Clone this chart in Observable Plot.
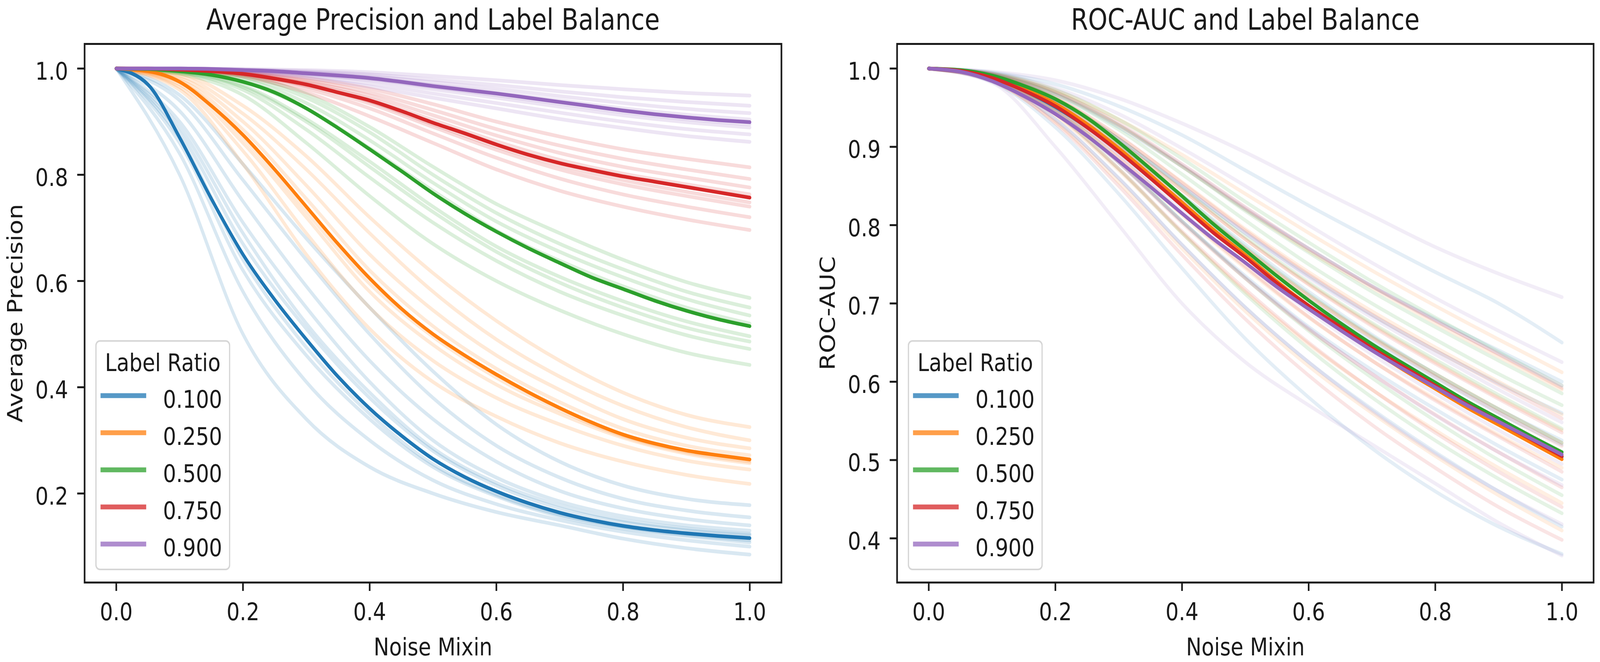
<!DOCTYPE html>
<html><head><meta charset="utf-8">
<script src="https://cdn.jsdelivr.net/npm/d3@7"></script>
<script src="https://cdn.jsdelivr.net/npm/@observablehq/plot@0.6"></script>
<style>
html,body{margin:0;padding:0;background:#fff;overflow:hidden;}
#wrap{position:relative;overflow:hidden;background:#fff;}
#fig{position:absolute;left:0;top:0;width:4870px;height:1695px;overflow:hidden;background:#fff;transform-origin:0 0;}
.panel{position:absolute;top:0;}
.legend{position:absolute;}
.panel [aria-label^="x-axis"] line, .panel [aria-label^="x-axis"] path,
.panel [aria-label^="y-axis"] line, .panel [aria-label^="y-axis"] path { stroke-width: 5px; }
</style></head><body><div id="wrap"><div id="fig"></div></div>
<script>
// ---------------- data ----------------
const ratioLabels = ["0.100", "0.250", "0.500", "0.750", "0.900"];
const ratioColors = ["#1f77b4", "#ff7f0e", "#2ca02c", "#d62728", "#9467bd"];
const xTicks = [0, 0.2, 0.4, 0.6, 0.8, 1.0];
const apTicks = [0.2, 0.4, 0.6, 0.8, 1.0];
const rocTicks = [0.4, 0.5, 0.6, 0.7, 0.8, 0.9, 1.0];

// noise mixin grid for the bold mean curves
const xMean = [0, 0.05, 0.1, 0.15, 0.2, 0.25, 0.3, 0.35, 0.4, 0.45, 0.5, 0.55, 0.6, 0.65, 0.7, 0.75, 0.8, 0.85, 0.9, 0.95, 1.0];
// noise mixin grid for the faint individual runs
const xRun = [0, 0.1, 0.2, 0.3, 0.4, 0.5, 0.6, 0.7, 0.8, 0.9, 1.0];

// Average precision: mean curves
const apMean010 = [1.0, 0.97, 0.87, 0.755, 0.65, 0.565, 0.49, 0.42, 0.36, 0.309, 0.265, 0.231, 0.204, 0.182, 0.164, 0.15, 0.139, 0.131, 0.125, 0.12, 0.116];
const apMean025 = [1.0, 0.995, 0.975, 0.93, 0.875, 0.81, 0.74, 0.67, 0.605, 0.548, 0.50, 0.46, 0.424, 0.391, 0.361, 0.334, 0.311, 0.294, 0.281, 0.272, 0.264];
const apMean050 = [1.0, 0.999, 0.995, 0.988, 0.975, 0.955, 0.925, 0.888, 0.848, 0.807, 0.765, 0.727, 0.693, 0.662, 0.634, 0.607, 0.585, 0.563, 0.544, 0.528, 0.515];
const apMean075 = [1.0, 1.0, 0.998, 0.995, 0.99, 0.981, 0.97, 0.955, 0.94, 0.92, 0.898, 0.878, 0.857, 0.838, 0.822, 0.809, 0.797, 0.787, 0.777, 0.767, 0.757];
const apMean090 = [1.0, 1.0, 1.0, 0.999, 0.997, 0.995, 0.991, 0.987, 0.982, 0.975, 0.967, 0.96, 0.953, 0.945, 0.937, 0.929, 0.921, 0.914, 0.908, 0.903, 0.899];

// Average precision: individual runs
const apRuns010 = [
  [1.0, 0.80, 0.50, 0.34, 0.25, 0.20, 0.165, 0.14, 0.115, 0.097, 0.085],
  [1.0, 0.84, 0.58, 0.41, 0.30, 0.225, 0.18, 0.15, 0.128, 0.112, 0.10],
  [1.0, 0.86, 0.62, 0.46, 0.34, 0.25, 0.195, 0.157, 0.134, 0.12, 0.108],
  [1.0, 0.87, 0.64, 0.475, 0.35, 0.255, 0.198, 0.16, 0.137, 0.122, 0.112],
  [1.0, 0.88, 0.67, 0.51, 0.38, 0.28, 0.215, 0.172, 0.146, 0.131, 0.122],
  [1.0, 0.89, 0.69, 0.52, 0.39, 0.285, 0.22, 0.178, 0.15, 0.134, 0.124],
  [1.0, 0.90, 0.71, 0.55, 0.41, 0.30, 0.23, 0.185, 0.157, 0.14, 0.13],
  [1.0, 0.92, 0.75, 0.59, 0.45, 0.34, 0.26, 0.205, 0.172, 0.152, 0.14],
  [1.0, 0.94, 0.79, 0.64, 0.50, 0.38, 0.29, 0.23, 0.19, 0.168, 0.155],
  [1.0, 0.95, 0.82, 0.68, 0.55, 0.43, 0.33, 0.26, 0.215, 0.19, 0.178]
];
const apRuns025 = [
  [1.0, 0.96, 0.82, 0.65, 0.51, 0.41, 0.345, 0.295, 0.26, 0.235, 0.218],
  [1.0, 0.965, 0.845, 0.69, 0.55, 0.45, 0.38, 0.33, 0.29, 0.262, 0.245],
  [1.0, 0.97, 0.86, 0.72, 0.58, 0.48, 0.405, 0.35, 0.305, 0.275, 0.257],
  [1.0, 0.975, 0.87, 0.73, 0.595, 0.495, 0.418, 0.357, 0.308, 0.278, 0.26],
  [1.0, 0.978, 0.885, 0.755, 0.62, 0.515, 0.435, 0.372, 0.322, 0.29, 0.272],
  [1.0, 0.982, 0.90, 0.78, 0.65, 0.545, 0.46, 0.395, 0.34, 0.305, 0.285],
  [1.0, 0.986, 0.915, 0.81, 0.69, 0.58, 0.49, 0.42, 0.365, 0.325, 0.30],
  [1.0, 0.99, 0.93, 0.835, 0.72, 0.615, 0.525, 0.45, 0.39, 0.348, 0.325]
];
const apRuns050 = [
  [1.0, 0.99, 0.95, 0.86, 0.76, 0.67, 0.60, 0.545, 0.50, 0.465, 0.442],
  [1.0, 0.992, 0.96, 0.885, 0.795, 0.71, 0.638, 0.58, 0.535, 0.498, 0.472],
  [1.0, 0.993, 0.965, 0.90, 0.815, 0.73, 0.655, 0.597, 0.55, 0.512, 0.486],
  [1.0, 0.994, 0.968, 0.905, 0.825, 0.74, 0.665, 0.608, 0.562, 0.524, 0.496],
  [1.0, 0.995, 0.975, 0.925, 0.85, 0.77, 0.695, 0.638, 0.59, 0.55, 0.52],
  [1.0, 0.996, 0.98, 0.935, 0.865, 0.785, 0.712, 0.655, 0.607, 0.566, 0.535],
  [1.0, 0.997, 0.984, 0.945, 0.88, 0.80, 0.728, 0.67, 0.622, 0.58, 0.55],
  [1.0, 0.998, 0.987, 0.952, 0.89, 0.815, 0.745, 0.69, 0.64, 0.598, 0.568]
];
const apRuns075 = [
  [1.0, 0.997, 0.985, 0.955, 0.91, 0.86, 0.81, 0.77, 0.74, 0.716, 0.696],
  [1.0, 0.997, 0.987, 0.962, 0.925, 0.878, 0.832, 0.793, 0.763, 0.74, 0.72],
  [1.0, 0.998, 0.989, 0.967, 0.934, 0.89, 0.847, 0.81, 0.782, 0.76, 0.74],
  [1.0, 0.998, 0.99, 0.969, 0.938, 0.895, 0.853, 0.817, 0.79, 0.768, 0.748],
  [1.0, 0.998, 0.991, 0.972, 0.943, 0.903, 0.863, 0.828, 0.802, 0.782, 0.763],
  [1.0, 0.999, 0.992, 0.975, 0.949, 0.912, 0.874, 0.841, 0.815, 0.795, 0.776],
  [1.0, 0.999, 0.993, 0.978, 0.955, 0.922, 0.886, 0.855, 0.83, 0.81, 0.792],
  [1.0, 0.999, 0.995, 0.982, 0.962, 0.933, 0.90, 0.872, 0.848, 0.83, 0.814]
];
const apRuns090 = [
  [1.0, 0.999, 0.994, 0.983, 0.966, 0.945, 0.925, 0.905, 0.888, 0.873, 0.862],
  [1.0, 0.999, 0.995, 0.986, 0.972, 0.953, 0.935, 0.917, 0.90, 0.886, 0.876],
  [1.0, 1.0, 0.996, 0.989, 0.978, 0.961, 0.945, 0.928, 0.912, 0.899, 0.889],
  [1.0, 1.0, 0.997, 0.99, 0.98, 0.965, 0.95, 0.934, 0.918, 0.905, 0.895],
  [1.0, 1.0, 0.997, 0.992, 0.983, 0.969, 0.955, 0.94, 0.925, 0.913, 0.904],
  [1.0, 1.0, 0.998, 0.993, 0.986, 0.974, 0.962, 0.948, 0.935, 0.924, 0.916],
  [1.0, 1.0, 0.998, 0.995, 0.989, 0.979, 0.969, 0.957, 0.946, 0.937, 0.93],
  [1.0, 1.0, 0.999, 0.997, 0.993, 0.986, 0.978, 0.969, 0.961, 0.954, 0.949]
];

// ROC-AUC: mean curves
const rocMean010 = [1.0, 0.997, 0.988, 0.972, 0.951, 0.925, 0.894, 0.86, 0.826, 0.792, 0.76, 0.727, 0.697, 0.668, 0.642, 0.617, 0.593, 0.57, 0.548, 0.526, 0.504];
const rocMean025 = [1.0, 0.997, 0.989, 0.974, 0.955, 0.929, 0.898, 0.864, 0.829, 0.794, 0.762, 0.728, 0.697, 0.668, 0.641, 0.615, 0.591, 0.567, 0.545, 0.523, 0.501];
const rocMean050 = [1.0, 0.998, 0.991, 0.978, 0.961, 0.937, 0.906, 0.872, 0.837, 0.801, 0.768, 0.735, 0.704, 0.675, 0.648, 0.623, 0.599, 0.575, 0.553, 0.531, 0.51];
const rocMean075 = [1.0, 0.997, 0.988, 0.972, 0.952, 0.925, 0.894, 0.86, 0.825, 0.79, 0.759, 0.726, 0.697, 0.67, 0.643, 0.619, 0.595, 0.571, 0.549, 0.527, 0.505];
const rocMean090 = [1.0, 0.996, 0.984, 0.965, 0.942, 0.914, 0.882, 0.849, 0.815, 0.782, 0.752, 0.721, 0.693, 0.666, 0.64, 0.616, 0.593, 0.57, 0.549, 0.528, 0.507];

// ROC-AUC: individual runs
const rocRuns010 = [
  [1.0, 0.983, 0.925, 0.84, 0.745, 0.655, 0.58, 0.515, 0.46, 0.415, 0.38],
  [1.0, 0.985, 0.935, 0.86, 0.775, 0.695, 0.625, 0.565, 0.51, 0.46, 0.415],
  [1.0, 0.987, 0.945, 0.88, 0.805, 0.735, 0.67, 0.615, 0.565, 0.518, 0.475],
  [1.0, 0.988, 0.952, 0.895, 0.83, 0.765, 0.705, 0.652, 0.605, 0.56, 0.52],
  [1.0, 0.989, 0.955, 0.90, 0.838, 0.775, 0.715, 0.66, 0.61, 0.565, 0.525],
  [1.0, 0.99, 0.96, 0.91, 0.85, 0.79, 0.735, 0.685, 0.64, 0.598, 0.56],
  [1.0, 0.992, 0.967, 0.925, 0.875, 0.82, 0.77, 0.722, 0.68, 0.64, 0.60],
  [1.0, 0.995, 0.98, 0.952, 0.915, 0.87, 0.825, 0.782, 0.74, 0.70, 0.65]
];
const rocRuns025 = [
  [1.0, 0.984, 0.932, 0.855, 0.77, 0.69, 0.62, 0.56, 0.505, 0.455, 0.41],
  [1.0, 0.986, 0.94, 0.87, 0.79, 0.715, 0.648, 0.59, 0.538, 0.49, 0.445],
  [1.0, 0.987, 0.948, 0.885, 0.813, 0.745, 0.682, 0.627, 0.578, 0.532, 0.49],
  [1.0, 0.989, 0.955, 0.90, 0.835, 0.77, 0.71, 0.657, 0.61, 0.565, 0.522],
  [1.0, 0.99, 0.958, 0.905, 0.845, 0.782, 0.725, 0.673, 0.625, 0.58, 0.538],
  [1.0, 0.99, 0.962, 0.913, 0.855, 0.795, 0.74, 0.69, 0.644, 0.60, 0.558],
  [1.0, 0.992, 0.968, 0.927, 0.875, 0.82, 0.767, 0.72, 0.675, 0.632, 0.59],
  [1.0, 0.993, 0.972, 0.935, 0.89, 0.84, 0.79, 0.742, 0.697, 0.654, 0.612]
];
const rocRuns050 = [
  [1.0, 0.987, 0.943, 0.872, 0.79, 0.712, 0.642, 0.58, 0.525, 0.476, 0.432],
  [1.0, 0.988, 0.948, 0.882, 0.805, 0.732, 0.665, 0.605, 0.55, 0.50, 0.455],
  [1.0, 0.989, 0.955, 0.897, 0.83, 0.762, 0.70, 0.645, 0.595, 0.548, 0.505],
  [1.0, 0.99, 0.958, 0.903, 0.838, 0.772, 0.712, 0.658, 0.61, 0.565, 0.522],
  [1.0, 0.991, 0.962, 0.91, 0.848, 0.785, 0.727, 0.675, 0.628, 0.583, 0.54],
  [1.0, 0.992, 0.967, 0.922, 0.865, 0.806, 0.75, 0.70, 0.654, 0.61, 0.57],
  [1.0, 0.993, 0.97, 0.928, 0.875, 0.818, 0.765, 0.715, 0.67, 0.627, 0.585],
  [1.0, 0.994, 0.973, 0.935, 0.885, 0.83, 0.778, 0.728, 0.682, 0.638, 0.595]
];
const rocRuns075 = [
  [1.0, 0.984, 0.93, 0.85, 0.762, 0.68, 0.608, 0.545, 0.49, 0.44, 0.398],
  [1.0, 0.986, 0.942, 0.872, 0.792, 0.718, 0.65, 0.59, 0.535, 0.485, 0.44],
  [1.0, 0.987, 0.946, 0.88, 0.803, 0.732, 0.667, 0.61, 0.558, 0.51, 0.465],
  [1.0, 0.988, 0.95, 0.888, 0.815, 0.747, 0.683, 0.627, 0.576, 0.53, 0.485],
  [1.0, 0.989, 0.956, 0.90, 0.835, 0.77, 0.71, 0.656, 0.607, 0.561, 0.518],
  [1.0, 0.99, 0.96, 0.907, 0.845, 0.782, 0.724, 0.671, 0.623, 0.578, 0.535],
  [1.0, 0.991, 0.963, 0.914, 0.854, 0.793, 0.737, 0.686, 0.64, 0.596, 0.553],
  [1.0, 0.993, 0.97, 0.93, 0.878, 0.823, 0.77, 0.722, 0.678, 0.635, 0.592]
];
const rocRuns090 = [
  [1.0, 0.982, 0.90, 0.80, 0.70, 0.625, 0.57, 0.52, 0.47, 0.42, 0.378],
  [1.0, 0.985, 0.935, 0.86, 0.775, 0.695, 0.625, 0.563, 0.508, 0.46, 0.418],
  [1.0, 0.987, 0.945, 0.88, 0.805, 0.733, 0.668, 0.61, 0.557, 0.51, 0.468],
  [1.0, 0.988, 0.95, 0.89, 0.82, 0.752, 0.69, 0.635, 0.585, 0.538, 0.495],
  [1.0, 0.99, 0.96, 0.91, 0.85, 0.79, 0.733, 0.682, 0.635, 0.59, 0.548],
  [1.0, 0.992, 0.968, 0.928, 0.877, 0.822, 0.77, 0.722, 0.678, 0.636, 0.595],
  [1.0, 0.994, 0.975, 0.942, 0.898, 0.85, 0.80, 0.752, 0.707, 0.665, 0.625],
  [1.0, 0.996, 0.985, 0.962, 0.93, 0.893, 0.852, 0.812, 0.772, 0.738, 0.708]
];

// ---------------- drawing ----------------
const FONT = "DejaVu Sans";
const INK = "#1a1a1a";
const wrap = document.getElementById("wrap");
const fig = document.getElementById("fig");

// fit the 4870x1695 figure into the CSS viewport the window reports
const vw = window.innerWidth || document.documentElement.clientWidth || 4870;
const vh = window.innerHeight || document.documentElement.clientHeight || 1695;
fig.style.transform = `scale(${vw / 4870}, ${vh / 1695})`;
wrap.style.width = vw + "px";
wrap.style.height = vh + "px";

function meanRows(arr) { return xMean.map((x, i) => ({x, v: arr[i]})); }
function runRows(runs) { return runs.flatMap((r, j) => xRun.map((x, i) => ({x, v: r[i], id: j}))); }

function panel({title, ylabel, yDomain, yTicks, means, runs, runOpacity, left, width, marginLeft, marginRight}) {
  const marks = [];
  runs.forEach((r, k) => marks.push(Plot.line(runRows(r), {
    x: "x", y: "v", z: "id", stroke: ratioColors[k], strokeOpacity: runOpacity,
    strokeWidth: 9.5, curve: "monotone-x"
  })));
  means.forEach((m, k) => marks.push(Plot.line(meanRows(m), {
    x: "x", y: "v", stroke: ratioColors[k], strokeWidth: 9.5, curve: "monotone-x"
  })));
  marks.push(Plot.frame({stroke: INK, strokeWidth: 5}));
  marks.push(Plot.text(yTicks, {y: d => d, text: d => d.toFixed(1), frameAnchor: "left", dx: -50, dy: 8,
    textAnchor: "end", fontSize: 63, fill: INK, fontFamily: FONT}));
  marks.push(Plot.text([title], {text: d => d, frameAnchor: "top", dy: -37, lineAnchor: "bottom", textAnchor: "middle", fontSize: 75, fill: INK, fontFamily: FONT}));
  marks.push(Plot.text(["Noise Mixin"], {text: d => d, frameAnchor: "bottom", dy: 186, lineAnchor: "bottom", textAnchor: "middle", fontSize: 63, fill: INK, fontFamily: FONT}));
  marks.push(Plot.text([ylabel], {text: d => d, frameAnchor: "left", dx: -190, rotate: -90, lineAnchor: "bottom", textAnchor: "middle", fontSize: 63, fill: INK, fontFamily: FONT}));

  const svg = Plot.plot({
    width, height: 1695,
    marginLeft, marginRight, marginTop: 112, marginBottom: 204,
    x: {domain: [-0.05, 1.05], ticks: xTicks, tickSize: 22, tickPadding: 30, tickFormat: d => d.toFixed(1), label: null},
    y: {domain: yDomain, ticks: yTicks, tickSize: 22, tickFormat: () => "", label: null},
    style: {fontFamily: FONT, fontSize: "63px", background: "transparent", overflow: "visible", color: INK, maxWidth: "none"},
    marks
  });
  svg.classList.add("panel");
  svg.style.left = left + "px";
  fig.appendChild(svg);

  // legend (inside the axes, lower-left)
  const lx = left + marginLeft + 33, ly = 871, lw = 411, lh = 589;
  const leg = d3.select(fig).append("svg").attr("class", "legend")
    .attr("width", lw).attr("height", lh)
    .style("left", lx + "px").style("top", ly + "px");
  leg.append("rect").attr("x", 2).attr("y", 2).attr("width", lw - 4).attr("height", lh - 4)
    .attr("rx", 12).attr("fill", "#fff").attr("fill-opacity", 0.8)
    .attr("stroke", "#d6d6d6").attr("stroke-width", 4);
  leg.append("text").attr("x", lw / 2).attr("y", 79).attr("text-anchor", "middle")
    .attr("font-family", FONT).attr("font-size", 63).attr("fill", INK).text("Label Ratio");
  const items = leg.selectAll("g.item").data(ratioLabels).join("g").attr("class", "item")
    .attr("transform", (d, i) => `translate(0,${i * 95})`);
  items.append("line").attr("x1", 16).attr("x2", 155).attr("y1", 142).attr("y2", 142)
    .attr("stroke", (d, i) => ratioColors[i]).attr("stroke-opacity", 0.75).attr("stroke-width", 12.5);
  items.append("text").attr("x", 206).attr("y", 173)
    .attr("font-family", FONT).attr("font-size", 63).attr("fill", INK).text(d => d);
}

panel({
  title: "Average Precision and Label Balance", ylabel: "Average Precision",
  yDomain: [0.0324, 1.0463], yTicks: apTicks,
  means: [apMean010, apMean025, apMean050, apMean075, apMean090],
  runs: [apRuns010, apRuns025, apRuns050, apRuns075, apRuns090], runOpacity: 0.17,
  left: 0, width: 2435, marginLeft: 257, marginRight: 57
});
panel({
  title: "ROC-AUC and Label Balance", ylabel: "ROC-AUC",
  yDomain: [0.3436, 1.0314], yTicks: rocTicks,
  means: [rocMean010, rocMean025, rocMean050, rocMean075, rocMean090],
  runs: [rocRuns010, rocRuns025, rocRuns050, rocRuns075, rocRuns090], runOpacity: 0.12,
  left: 2435, width: 2435, marginLeft: 295, marginRight: 20
});
</script></body></html>
